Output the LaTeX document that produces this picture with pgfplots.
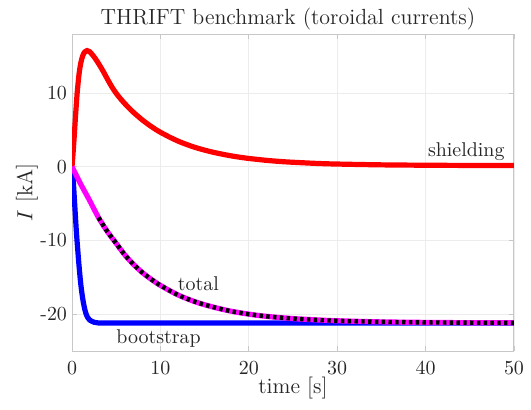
\documentclass[border=0pt]{standalone}
\usepackage{pgfplots}
\pgfplotsset{compat=1.18}
\definecolor{gridc}{RGB}{236,236,236}
\definecolor{boxc}{RGB}{200,200,200}
\definecolor{txt}{RGB}{38,38,38}
\definecolor{mag}{RGB}{255,0,255}
\definecolor{rd}{RGB}{255,0,0}
\definecolor{bl}{RGB}{0,0,255}
\begin{document}
\begin{tikzpicture}
\begin{axis}[
  scale only axis,
  width=221bp, height=158.5bp,
  xmin=0, xmax=50, ymin=-25, ymax=18,
  xtick={0,10,20,30,40,50},
  ytick={-20,-10,0,10},
  yticklabels={{-20},{-10},{0},{10}},
  grid=major,
  major grid style={gridc, line width=0.4bp},
  axis line style={boxc, line width=0.5bp},
  tick style={boxc, line width=0.4bp},
  major tick length=2.5bp,
  tick align=inside,
  tick label style={font=\fontsize{10}{12}\selectfont, text=txt},
  xticklabel style={yshift=-2bp},
  yticklabel style={xshift=1bp},
  title={THRIFT benchmark (toroidal currents)},
  every axis title/.style={at={(axis description cs:0.4887,1.0315)}, anchor=base, font=\fontsize{11}{13}\selectfont, text=txt},
  xlabel={time [s]},
  every axis x label/.style={at={(axis description cs:0.5,-0.1325)}, anchor=base, font=\fontsize{11}{13}\selectfont, text=txt},
  ylabel={$I$ [kA]},
  every axis y label/.style={at={(axis description cs:-0.1018,0.5)}, anchor=center, rotate=90, font=\fontsize{11}{13}\selectfont, text=txt},
]
% bootstrap
\addplot[bl, line width=2.6bp, smooth] coordinates {
(0,0) (0.1,-1.2) (0.2,-3.0) (0.3,-5.0) (0.4,-7.0) (0.5,-8.9) (0.6,-10.5)
(0.8,-13.5) (1.0,-16.0) (1.2,-17.8) (1.4,-19.1) (1.6,-20.0) (1.8,-20.5)
(2.0,-20.8) (2.5,-21.1) (3,-21.2) (4,-21.2) (10,-21.2) (20,-21.2) (30,-21.2) (40,-21.2) (50,-21.2)
};
% shielding
\addplot[rd, line width=2.6bp, smooth] coordinates {
(0,0) (0.1,1.5) (0.2,3.2) (0.3,5.0) (0.4,6.9) (0.5,8.6) (0.6,10.2)
(0.8,12.6) (1.0,14.1) (1.2,15.0) (1.4,15.5) (1.7,15.75) (2.0,15.6)
(2.5,14.9) (3.0,14.0) (3.5,13.0) (4.0,11.9) (4.5,10.85) (5.0,9.95)
(5.5,9.2) (6.0,8.52) (6.5,7.9) (7.0,7.32) (7.5,6.8) (8.0,6.3) (8.5,5.85)
(9.0,5.42) (9.5,5.03) (10,4.67) (11,4.04) (12,3.47) (13,3.0) (14,2.59)
(15,2.25) (16,1.95) (17,1.7) (18,1.47) (19,1.28) (20,1.12) (22,0.86)
(24,0.67) (26,0.54) (28,0.43) (30,0.36) (35,0.25) (40,0.2) (45,0.17) (50,0.16)
};
% total
\addplot[mag, line width=2.6bp, smooth] coordinates {
(0,0) (0.5,-1.2) (1,-2.4) (1.5,-3.5) (2,-4.6) (3,-6.9) (4,-8.8) (5,-10.4)
(6,-12.0) (7,-13.3) (8,-14.4) (9,-15.3) (10,-16.1) (12,-17.4) (14,-18.35)
(16,-19.05) (18,-19.6) (20,-20.0) (22,-20.3) (25,-20.6) (28,-20.8)
(30,-20.9) (35,-21.05) (40,-21.12) (45,-21.16) (50,-21.18)
};
% reference (dotted)
\addplot[black, line width=2.2bp, dash pattern=on 1.7bp off 1.7bp, smooth] coordinates {
(3,-6.9) (4,-8.8) (5,-10.4)
(6,-12.0) (7,-13.3) (8,-14.4) (9,-15.3) (10,-16.1) (12,-17.4) (14,-18.35)
(16,-19.05) (18,-19.6) (20,-20.0) (22,-20.3) (25,-20.6) (28,-20.8)
(30,-20.9) (35,-21.05) (40,-21.12) (45,-21.16) (50,-21.18)
};
\node[font=\fontsize{10}{12}\selectfont, text=txt] at (axis cs:44.6,2.0) {shielding};
\node[font=\fontsize{10}{12}\selectfont, text=txt] at (axis cs:14.3,-15.9) {total};
\node[font=\fontsize{10}{12}\selectfont, text=txt] at (axis cs:9.8,-23.3) {bootstrap};
\end{axis}
\pgfresetboundingbox
\path[use as bounding box] (-36bp,-29.5bp) rectangle (229.5bp,175.5bp);
\end{tikzpicture}
\end{document}
